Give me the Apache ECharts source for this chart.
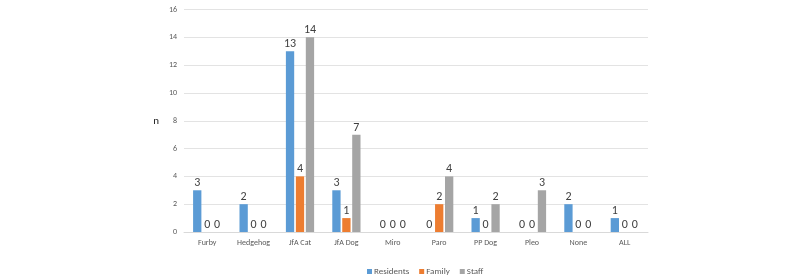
<!DOCTYPE html>
<html><head><meta charset="utf-8">
<script src="https://cdn.jsdelivr.net/npm/echarts@6/dist/echarts.min.js"></script>
<style>html,body{margin:0;padding:0;background:#fff}#c{width:800px;height:275px}</style>
</head><body><div id="c"></div>
<script>
const categories = ["Furby","Hedgehog","JfA Cat","JfA Dog","Miro","Paro","PP Dog","Pleo","None","ALL"];
const residents = [3,2,13,3,0,0,1,0,2,1];
const family = [0,0,4,1,0,2,0,0,0,0];
const staff = [0,0,14,7,0,4,2,3,0,0];
const yTicks = [0,2,4,6,8,10,12,14,16];
const colors = ["#5B9BD5","#ED7D31","#A5A5A5"];
const font = "Calibri, Carlito, 'Open Sans', sans-serif";
const chart = echarts.init(document.getElementById('c'));
function s(name, data, color){
  return {name, type:'bar', data, barWidth:8.3, barGap:'20%',
    itemStyle:{color},
    label:{show:true, position:'top', distance:1, color:'#404040', fontSize:12, fontFamily:font}};
}
chart.setOption({
  animation:false,
  textStyle:{fontFamily:font},
  grid:{left:184, right:152, top:9.5, bottom:43, containLabel:false},
  legend:{top:262, left:362, itemWidth:5, itemHeight:5, itemGap:10, icon:'rect',
    textStyle:{fontSize:9, color:'#595959', fontFamily:font, padding:[0,0,0,-3]},
    data:['Residents','Family','Staff']},
  xAxis:{type:'category', data:categories,
    axisLine:{lineStyle:{color:'#d9d9d9'}}, axisTick:{show:false},
    axisLabel:{fontSize:8, color:'#595959', margin:7, fontFamily:font}},
  yAxis:{type:'value', min:0, max:16, interval:2, name:'n', nameLocation:'middle', nameGap:25, nameRotate:0,
    nameTextStyle:{fontSize:11, color:'#222', fontFamily:font},
    axisLine:{show:false}, axisTick:{show:false},
    splitLine:{lineStyle:{color:'#e3e3e3'}},
    axisLabel:{fontSize:8, color:'#595959', margin:7, fontFamily:font,
      formatter:(v)=> yTicks.includes(v) ? String(v) : ''}},
  series:[s('Residents',residents,colors[0]), s('Family',family,colors[1]), s('Staff',staff,colors[2])]
});
</script></body></html>
